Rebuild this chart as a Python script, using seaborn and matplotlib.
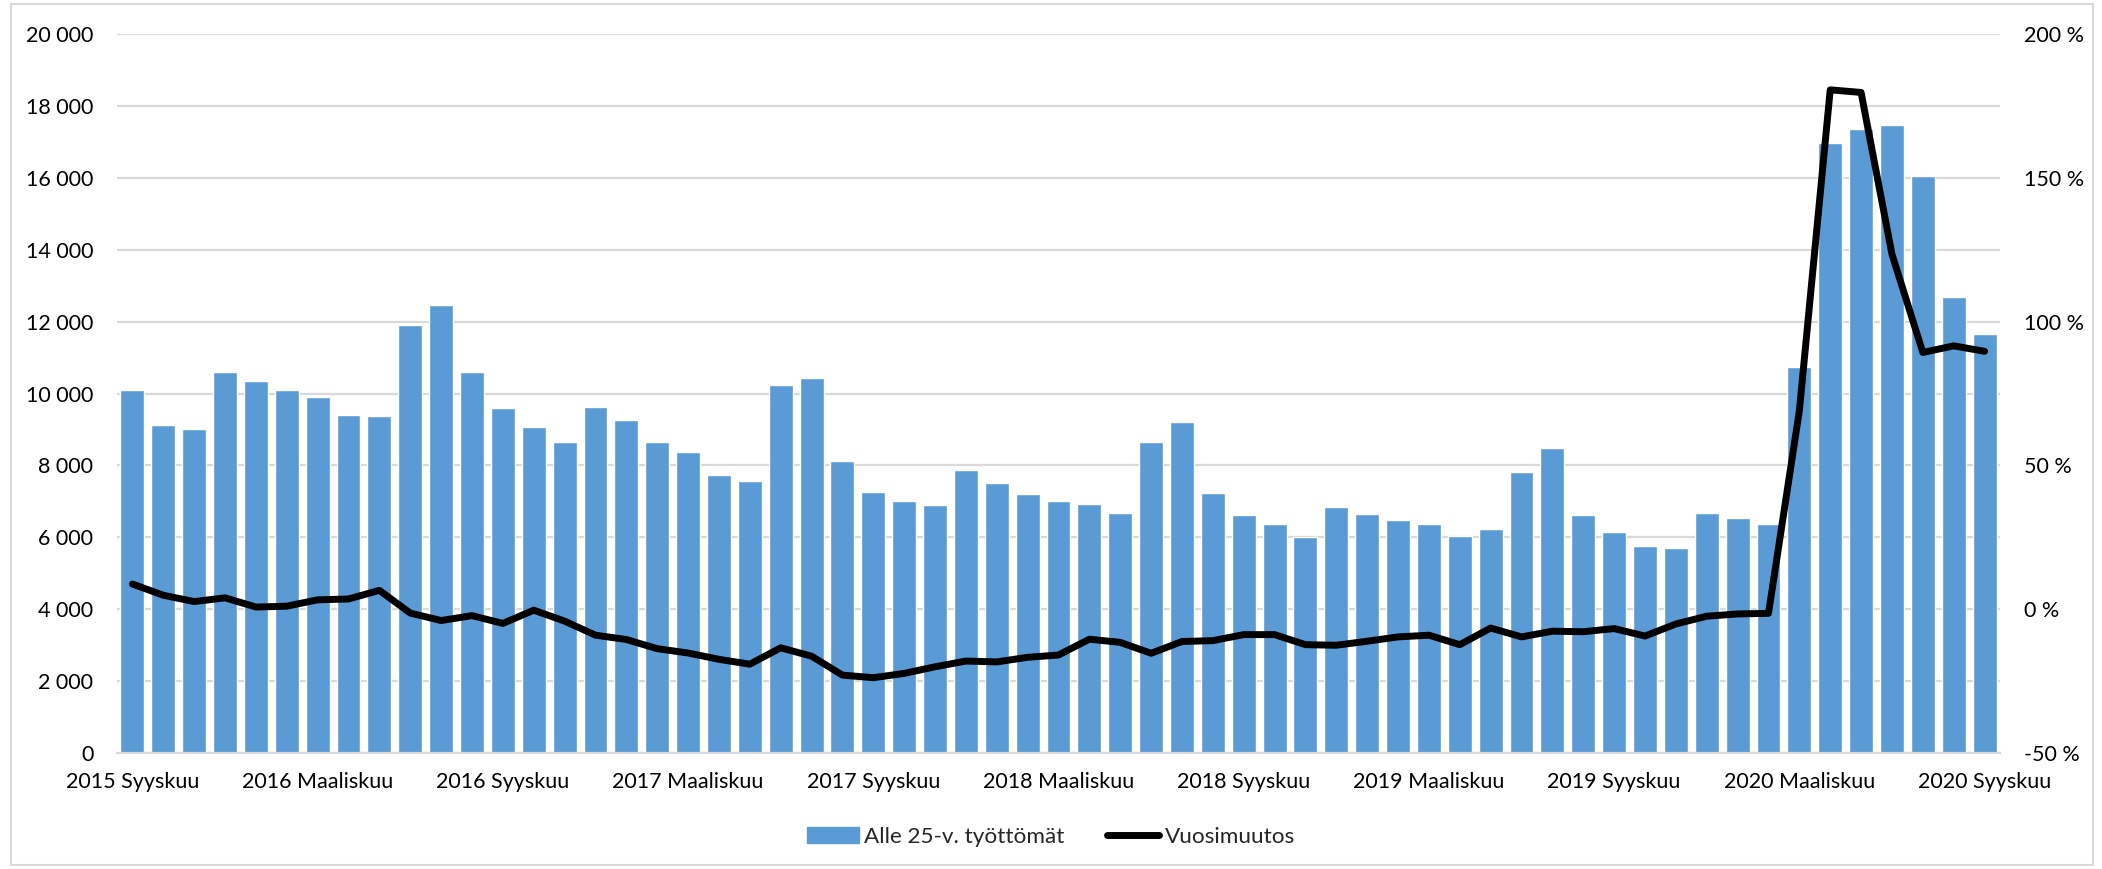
import numpy as np
import pandas as pd
import matplotlib
matplotlib.use("Agg")
import matplotlib.pyplot as plt
import seaborn as sns
from matplotlib.patches import Patch, Rectangle
from matplotlib.lines import Line2D
from matplotlib.ticker import FuncFormatter, MultipleLocator

# ---- data ----
month_names = ["Tammikuu", "Helmikuu", "Maaliskuu", "Huhtikuu", "Toukokuu", "Kesäkuu",
               "Heinäkuu", "Elokuu", "Syyskuu", "Lokakuu", "Marraskuu", "Joulukuu"]
months = [f"{2015 + (8 + i) // 12} {month_names[(8 + i) % 12]}" for i in range(61)]

unemployed_under25 = [
    10100, 9120, 9020, 10600, 10345, 10085, 9895, 9415, 9370, 11900,
    12475, 10590, 9590, 9060, 8645, 9635, 9250, 8660, 8370, 7740,
    7560, 10240, 10425, 8125, 7260, 6995, 6890, 7860, 7505, 7195,
    7015, 6920, 6675, 8650, 9220, 7225, 6605, 6360, 6010, 6855,
    6645, 6475, 6365, 6040, 6215, 7805, 8495, 6630, 6155, 5765,
    5705, 6685, 6525, 6375, 10730, 16975, 17370, 17465, 16070, 12700,
    11655,
]
annual_change = [
    8.7, 4.8, 2.6, 3.9, 0.7, 1.0, 3.2, 3.5, 6.5, -1.4,
    -4.0, -2.3, -5.0, -0.4, -4.2, -9.1, -10.6, -13.8, -15.3, -17.5,
    -19.2, -13.5, -16.4, -23.0, -23.9, -22.4, -20.1, -18.1, -18.4, -16.8,
    -16.0, -10.5, -11.6, -15.4, -11.3, -11.0, -8.9, -8.9, -12.4, -12.6,
    -11.2, -9.7, -9.1, -12.4, -6.6, -9.7, -7.7, -7.9, -6.8, -9.4,
    -5.2, -2.5, -1.7, -1.5, 69.0, 180.7, 179.8, 123.5, 89.3, 91.6,
    89.7,
]
bar_label = "Alle 25-v. työttömät"
line_label = "Vuosimuutos"

df = pd.DataFrame({"kk": months, "idx": np.arange(len(months)),
                   "arvo": unemployed_under25, "muutos": annual_change})

# ---- style ----
sns.set_theme(style="white")
plt.rcParams["font.family"] = ["Lato", "DejaVu Sans"]
FS = 15.5
BLUE = "#5B9BD5"
GRID = "#D9D9D9"

fig = plt.figure(figsize=(21.02, 8.69), dpi=100)
ax = fig.add_axes([117 / 2102, 116.3 / 869, (2000 - 117) / 2102, (752.7 - 34.4) / 869])

sns.barplot(data=df, x="idx", y="arvo", color=BLUE, saturation=1, width=0.775,
            ax=ax, zorder=2)
ax.set_xlim(-0.5, len(months) - 0.5)
ax.set_ylim(0, 20000)
ax.yaxis.set_major_locator(MultipleLocator(2000))
ax.yaxis.set_major_formatter(FuncFormatter(lambda v, p: f"{int(v):,}".replace(",", " ")))
ax.grid(axis="y", color=GRID, linewidth=1.6, zorder=0)
ax.set_axisbelow(True)
ax.set_xlabel("")
ax.set_ylabel("")
tick_pos = list(range(0, len(months), 6))
ax.set_xticks(tick_pos)
ax.set_xticklabels([months[i] for i in tick_pos], fontsize=FS)
for s in ["top", "left", "right"]:
    ax.spines[s].set_visible(False)
ax.spines["bottom"].set_color(GRID)
ax.spines["bottom"].set_linewidth(1.6)
ax.tick_params(axis="both", length=0, labelsize=FS, colors="#000000")
ax.tick_params(axis="y", pad=17)
ax.tick_params(axis="x", pad=14)

ax2 = ax.twinx()
sns.lineplot(data=df, x="idx", y="muutos", color="black", linewidth=5, ax=ax2,
             solid_capstyle="round", solid_joinstyle="round")
ax2.set_ylim(-50, 200)
ax2.yaxis.set_major_locator(MultipleLocator(50))
ax2.yaxis.set_major_formatter(FuncFormatter(lambda v, p: f"{int(v)} %"))
ax2.set_ylabel("")
ax2.set_xlabel("")
for s in ["top", "left", "right", "bottom"]:
    ax2.spines[s].set_visible(False)
ax2.tick_params(axis="y", length=0, labelsize=FS, pad=17, colors="#000000")
ax2.grid(False)
ax2.set_xlim(-0.5, len(months) - 0.5)

handles = [Patch(facecolor=BLUE, edgecolor=BLUE),
           Line2D([0], [0], color="black", linewidth=5, solid_capstyle="round")]
fig.legend(handles, [bar_label, line_label], loc="center", bbox_to_anchor=(0.5, 1 - 837 / 869),
           ncol=2, frameon=False, fontsize=16.2, handlelength=2.3, handleheight=0.7,
           columnspacing=1.9, handletextpad=0.25)

fig.patches.append(Rectangle((11 / 2102, 4 / 869), (2093 - 11) / 2102, (865 - 4) / 869,
                             transform=fig.transFigure, fill=False, edgecolor=GRID,
                             linewidth=1.5))

fig.savefig("out.png", dpi=100, facecolor="white")
